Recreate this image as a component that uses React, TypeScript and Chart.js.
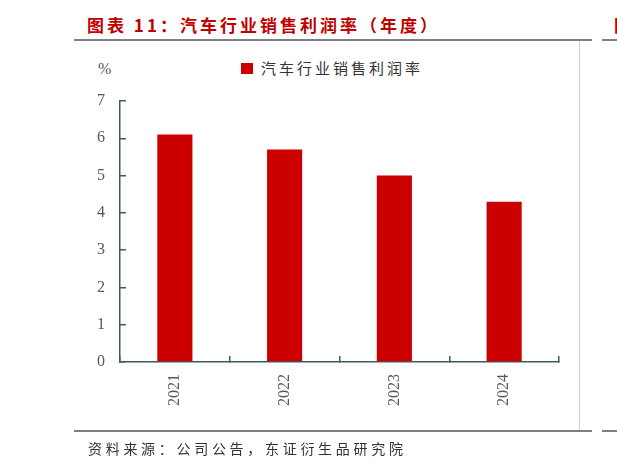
import * as React from 'react';
import { useEffect, useRef } from 'react';
import { Chart, registerables } from 'chart.js';

Chart.register(...registerables);

// data
const years = ['2021', '2022', '2023', '2024'];
const profitMargin = [6.1, 5.7, 5.0, 4.3];
const seriesName = '汽车行业销售利润率';
const yMin = 0;
const yMax = 7;

const RED = '#CC0000';
const AXIS = '#3F5C5C';
const TICK_TEXT = '#595959';

const W = 617;
const H = 467;

export default function App() {
  const canvasRef = useRef<HTMLCanvasElement>(null);

  useEffect(() => {
    const ctx = canvasRef.current.getContext('2d');
    const chart = new Chart(ctx, {
      type: 'bar',
      data: {
        labels: years,
        datasets: [
          {
            label: seriesName,
            data: profitMargin,
            backgroundColor: RED,
            borderWidth: 0,
            categoryPercentage: 1,
            barPercentage: 0.32,
          },
        ],
      },
      options: {
        responsive: false,
        animation: false,
        layout: {
          padding: { left: 0, right: W - 559, top: 101, bottom: 0 },
        },
        plugins: {
          legend: { display: false },
          tooltip: { enabled: false },
          title: { display: false },
        },
        scales: {
          x: {
            afterFit: (s) => {
              s.height = H - 362;
            },
            border: { color: AXIS, width: 1.5 },
            grid: {
              offset: true,
              drawOnChartArea: false,
              color: AXIS,
              lineWidth: 1.5,
              tickLength: -6,
            },
            ticks: {
              minRotation: 90,
              maxRotation: 90,
              padding: 18,
              color: TICK_TEXT,
              font: { family: '"Liberation Serif", "DejaVu Serif", serif', size: 16 },
            },
          },
          y: {
            min: yMin,
            max: yMax,
            afterFit: (s) => {
              s.width = 120;
            },
            border: { color: AXIS, width: 1.5 },
            grid: {
              drawOnChartArea: false,
              color: AXIS,
              lineWidth: 1.5,
              tickLength: -6,
            },
            ticks: {
              stepSize: 1,
              padding: 21,
              color: TICK_TEXT,
              font: { family: '"Liberation Serif", "DejaVu Serif", serif', size: 16 },
            },
          },
        },
      },
    });
    return () => {
      chart.destroy();
    };
  }, []);

  const cjk = '"Noto Sans CJK SC", "Noto Sans", sans-serif';

  return (
    <div style={{ position: 'fixed', left: 0, top: 0, width: W, height: H, background: '#fff', overflow: 'hidden' }}>
      {/* title */}
      <div style={{ position: 'absolute', left: 87, top: 13, fontFamily: cjk, fontWeight: 700, fontSize: 17, letterSpacing: 3, lineHeight: '24px', color: '#C00000', whiteSpace: 'nowrap' }}>
        图表 11：汽车行业销售利润率（年度）
      </div>
      <div style={{ position: 'absolute', left: 614, top: 13, fontFamily: cjk, fontWeight: 700, fontSize: 17, lineHeight: '24px', color: '#C00000' }}>图</div>
      <div style={{ position: 'absolute', left: 74, top: 39, width: 592 - 74, height: 2, background: '#808080' }} />
      <div style={{ position: 'absolute', left: 602, top: 39, width: 15, height: 2, background: '#808080' }} />
      <div style={{ position: 'absolute', left: 579, top: 41, width: 1, height: 389, background: '#D0D0D0' }} />

      {/* unit and legend */}
      <div style={{ position: 'absolute', left: 98, top: 59, fontFamily: '"Liberation Serif", serif', fontSize: 16, lineHeight: '20px', color: TICK_TEXT }}>%</div>
      <div style={{ position: 'absolute', left: 241, top: 63, width: 12, height: 11, background: RED }} />
      <div style={{ position: 'absolute', left: 261, top: 58, fontFamily: cjk, fontSize: 15, letterSpacing: 3, lineHeight: '20px', color: '#333', whiteSpace: 'nowrap' }}>
        {seriesName}
      </div>

      <canvas ref={canvasRef} width={W} height={H} style={{ position: 'absolute', left: 0, top: 0 }} />

      {/* source */}
      <div style={{ position: 'absolute', left: 74, top: 430, width: 592 - 74, height: 1.5, background: '#808080' }} />
      <div style={{ position: 'absolute', left: 602, top: 430, width: 15, height: 1.5, background: '#808080' }} />
      <div style={{ position: 'absolute', left: 88, top: 438, fontFamily: cjk, fontSize: 14, letterSpacing: 3.7, lineHeight: '20px', color: '#333', whiteSpace: 'nowrap' }}>
        资料来源：公司公告，东证衍生品研究院
      </div>
    </div>
  );
}
